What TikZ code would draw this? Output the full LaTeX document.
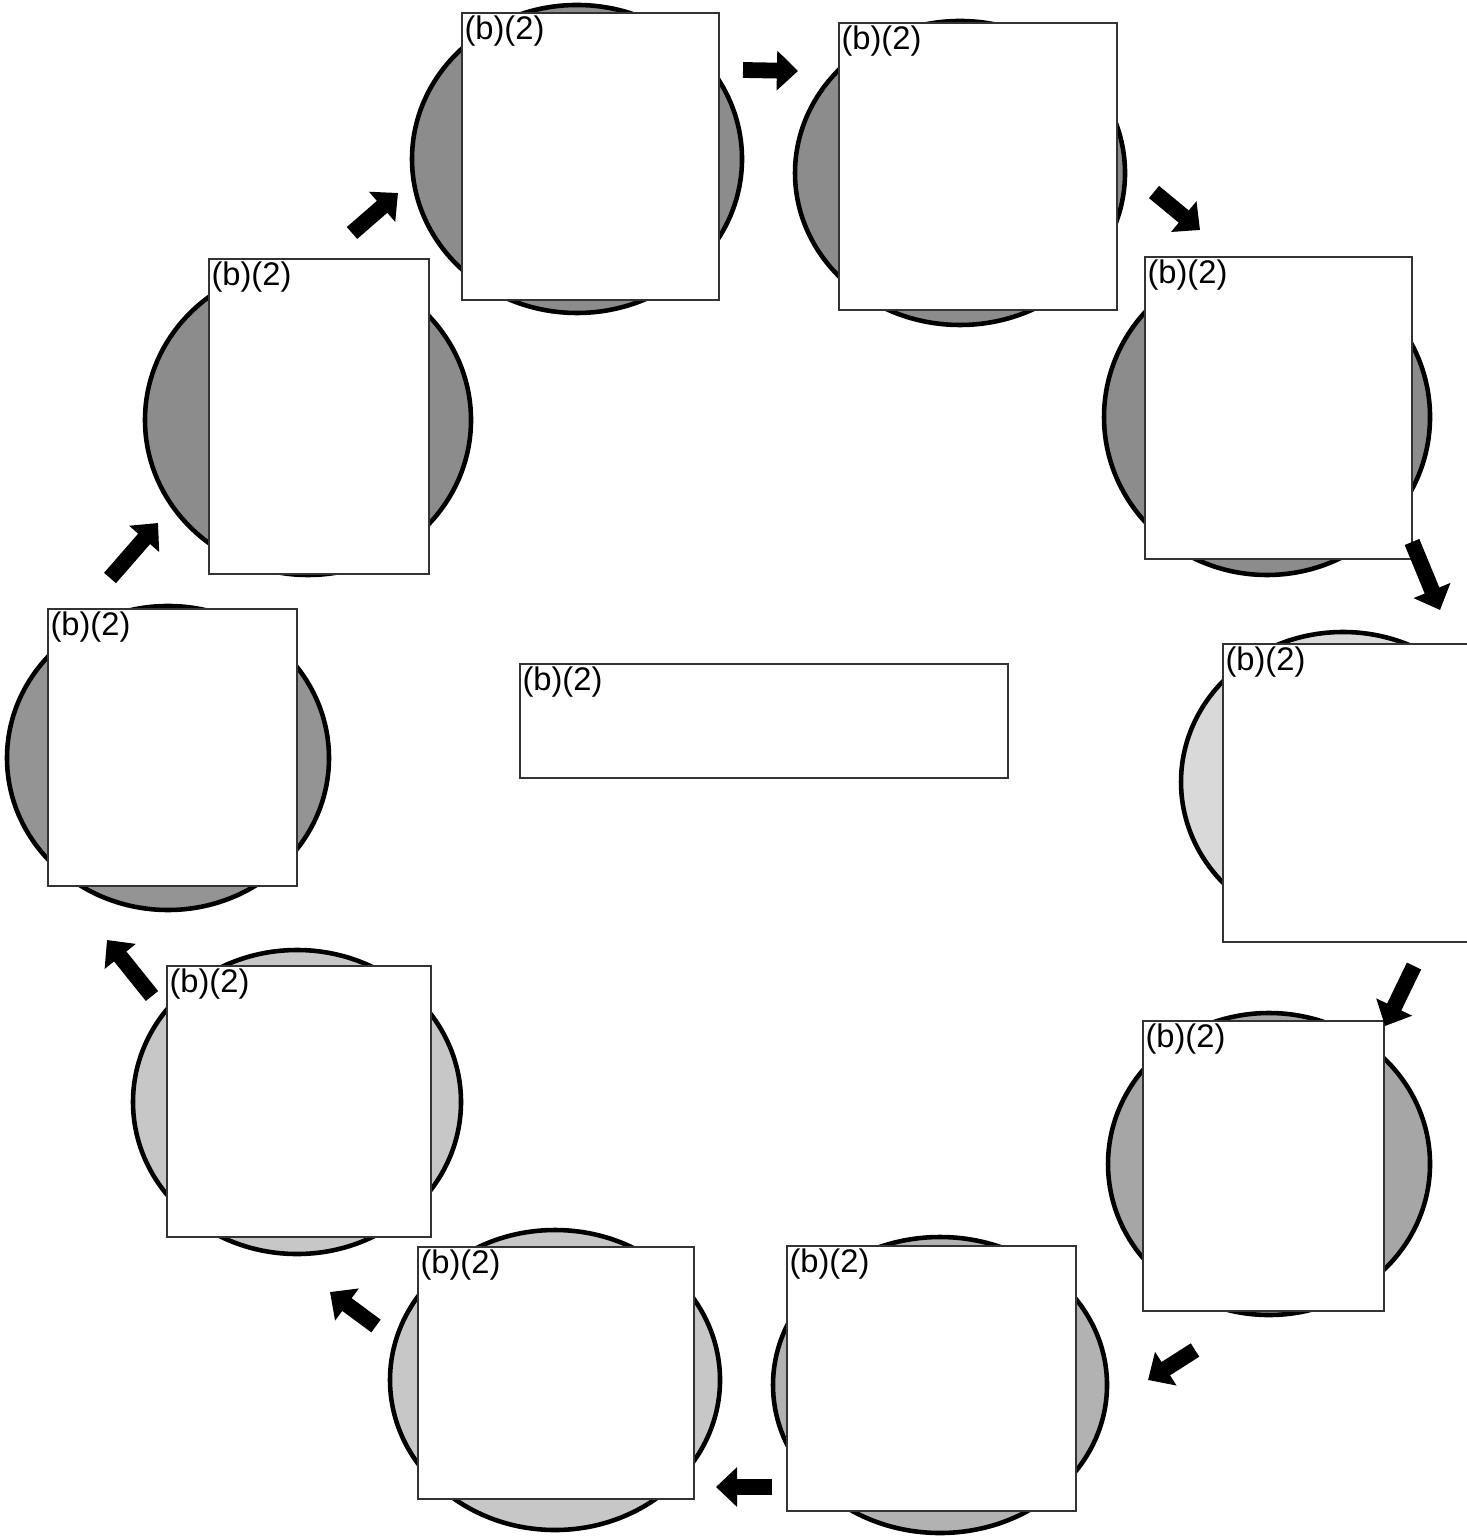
\documentclass[tikz,border=0pt]{standalone}
\usepackage{fontspec}
\setmainfont{Liberation Sans}
\usetikzlibrary{shapes.geometric,arrows.meta}

\tikzset{
  disc/.style={ellipse,draw,line width=1.3pt,inner sep=0pt},
  stagebox/.style={rectangle,draw=black!80,line width=0.5pt,fill=white,anchor=north west,inner sep=0pt,
    label={[anchor=north west,inner sep=0.8pt,font=\fontsize{9.3}{10}\selectfont]north west:(b)(2)}},
  turn/.style={line width=4.5pt,-{Triangle[width=11pt,length=6pt]}}
}

\begin{document}
\begin{tikzpicture}
        \useasboundingbox (0,0) rectangle (14.66,-15.37);
        % discs
        \node[disc,fill=black!45,minimum width=3.30cm,minimum height=3.08cm] (c1) at (5.77,-1.59) {};
        \node[disc,fill=black!45,minimum width=3.30cm,minimum height=3.04cm] (c2) at (9.60,-1.73) {};
        \node[disc,fill=black!45,minimum width=3.26cm,minimum height=3.16cm] (c3) at (12.67,-4.17) {};
        \begin{scope}
            \clip (0,0) rectangle (14.56,-15.37);
            \node[disc,fill=black!15,minimum width=3.24cm,minimum height=3.00cm] (c4) at (13.43,-7.82) {};
        \end{scope}
        \node[disc,fill=black!35,minimum width=3.22cm,minimum height=3.02cm] (c5) at (12.69,-11.64) {};
        \node[disc,fill=black!30,minimum width=3.34cm,minimum height=2.96cm] (c6) at (9.40,-13.85) {};
        \node[disc,fill=black!22,minimum width=3.30cm,minimum height=3.00cm] (c7) at (5.55,-13.80) {};
        \node[disc,fill=black!22,minimum width=3.28cm,minimum height=3.04cm] (c8) at (2.97,-11.02) {};
        \node[disc,fill=black!42,minimum width=3.22cm,minimum height=3.04cm] (c9) at (1.68,-7.58) {};
        \node[disc,fill=black!45,minimum width=3.26cm,minimum height=3.10cm] (c10) at (3.08,-4.20) {};
        % boxes
        \node[stagebox,minimum width=2.57cm,minimum height=2.87cm] (p1) at (4.61,-0.12) {};
        \node[stagebox,minimum width=2.78cm,minimum height=2.87cm] (p2) at (8.38,-0.22) {};
        \node[stagebox,minimum width=2.67cm,minimum height=3.02cm] (p3) at (11.44,-2.56) {};
        \node[stagebox,minimum width=2.60cm,minimum height=2.98cm] (p4) at (12.22,-6.43) {};
        \node[stagebox,minimum width=2.41cm,minimum height=2.90cm] (p5) at (11.42,-10.20) {};
        \node[stagebox,minimum width=2.89cm,minimum height=2.65cm] (p6) at (7.86,-12.45) {};
        \node[stagebox,minimum width=2.76cm,minimum height=2.52cm] (p7) at (4.17,-12.46) {};
        \node[stagebox,minimum width=2.64cm,minimum height=2.71cm] (p8) at (1.66,-9.65) {};
        \node[stagebox,minimum width=2.49cm,minimum height=2.77cm] (p9) at (0.47,-6.08) {};
        \node[stagebox,minimum width=2.20cm,minimum height=3.15cm] (p10) at (2.08,-2.58) {};
        \node[stagebox,minimum width=4.88cm,minimum height=1.14cm] (p0) at (5.19,-6.63) {};
        % arrow ends
        \coordinate (a1) at (7.43,-0.70);  \coordinate (b1) at (7.98,-0.71);
        \coordinate (a2) at (11.54,-1.92); \coordinate (b2) at (12.00,-2.30);
        \coordinate (a3) at (14.12,-5.42); \coordinate (b3) at (14.40,-6.10);
        \coordinate (a4) at (14.14,-9.66); \coordinate (b4) at (13.85,-10.26);
        \coordinate (a5) at (11.95,-13.50); \coordinate (b5) at (11.48,-13.80);
        \coordinate (a6) at (7.72,-14.87); \coordinate (b6) at (7.16,-14.87);
        \coordinate (a7) at (3.76,-13.26); \coordinate (b7) at (3.30,-12.92);
        \coordinate (a8) at (1.52,-9.96);  \coordinate (b8) at (1.07,-9.40);
        \coordinate (a9) at (1.10,-5.78);  \coordinate (b9) at (1.58,-5.23);
        \coordinate (a10) at (3.52,-2.33); \coordinate (b10) at (3.98,-1.93);
        \foreach \i in {1,...,10}
            \draw[turn] (a\i) -- (b\i);
    \end{tikzpicture}
\end{document}
